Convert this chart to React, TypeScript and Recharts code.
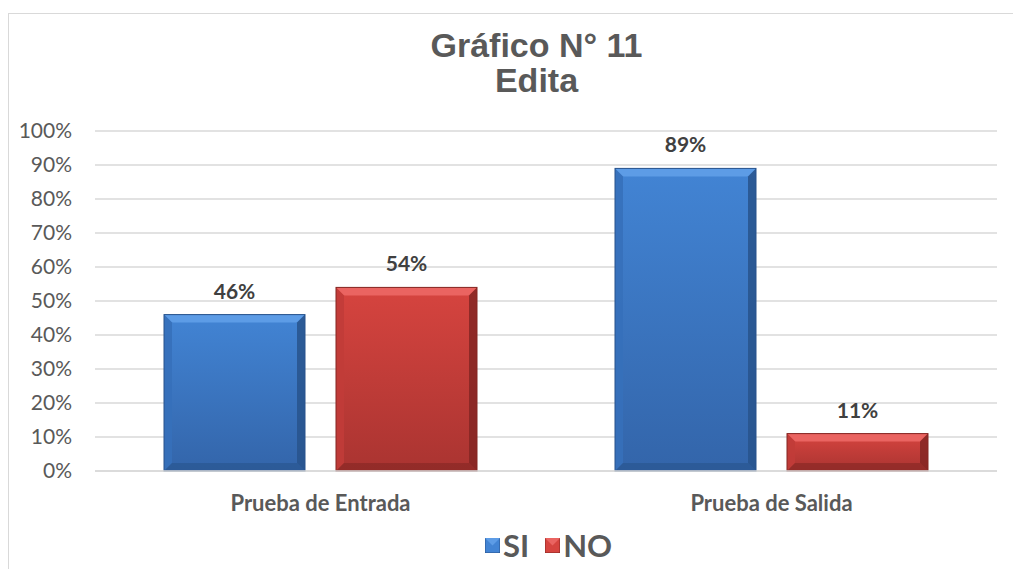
import { BarChart, Bar, XAxis, YAxis, CartesianGrid, Legend, LabelList } from "recharts"

const categories = ["Prueba de Entrada", "Prueba de Salida"]
const siValues = [0.46, 0.89]
const noValues = [0.54, 0.11]
const yTicks = [0, 0.1, 0.2, 0.3, 0.4, 0.5, 0.6, 0.7, 0.8, 0.9, 1]
const titleLines = ["Gráfico N° 11", "Edita"]

const data = categories.map((name, i) => ({ name, SI: siValues[i], NO: noValues[i] }))

const pct = (v: number) => `${Math.round(v * 100)}%`

const palette = {
  SI: { top: "#5d9ce6", face1: "#4284d4", face2: "#3365aa", side: "#3670ba", dark: "#28538c" },
  NO: { top: "#ea6461", face1: "#d6443f", face2: "#aa3431", side: "#c13c38", dark: "#842623" },
}

function BevelBar(props: any) {
  const { x, y, width: w, height: h, dataKey } = props
  if (!h || h <= 0) return null
  const c = palette[dataKey as "SI" | "NO"]
  const b = Math.min(8, h / 3)
  return (
    <g>
      <rect x={x} y={y} width={w} height={h} fill={`url(#grad-${dataKey})`} />
      <polygon points={`${x},${y} ${x + w},${y} ${x + w - b},${y + b} ${x + b},${y + b}`} fill={c.top} />
      <polygon points={`${x},${y} ${x + b},${y + b} ${x + b},${y + h - b} ${x},${y + h}`} fill={c.side} opacity={0.9} />
      <polygon points={`${x + w},${y} ${x + w - b},${y + b} ${x + w - b},${y + h - b} ${x + w},${y + h}`} fill={c.dark} opacity={0.85} />
      <polygon points={`${x},${y + h} ${x + b},${y + h - b} ${x + w - b},${y + h - b} ${x + w},${y + h}`} fill={c.dark} opacity={0.6} />
      <rect x={x} y={y} width={w} height={h} fill="none" stroke={c.dark} strokeWidth={1} />
    </g>
  )
}

function LegendBox() {
  const items = [
    { key: "SI", c: palette.SI },
    { key: "NO", c: palette.NO },
  ]
  return (
    <div style={{ height: 58, display: "flex", justifyContent: "flex-start", alignItems: "center", paddingTop: 10, paddingLeft: 485, boxSizing: "border-box", gap: 16 }}>
      {items.map((it) => (
        <div key={it.key} style={{ display: "flex", alignItems: "center", gap: 3 }}>
          <svg width={15} height={15}>
            <rect x={0} y={0} width={15} height={15} fill={it.c.face1} stroke={it.c.dark} />
            <polygon points="0,0 15,0 7.5,7.5" fill={it.c.top} />
          </svg>
          <span style={{ fontFamily: "Lato", fontWeight: 700, fontSize: 31, color: "#595959" }}>{it.key}</span>
        </div>
      ))}
    </div>
  )
}

export default function App() {
  return (
    <div style={{ position: "absolute", left: 0, top: 0, width: 1013, height: 569, overflow: "hidden", background: "#fff" }}>
      <div style={{ position: "absolute", left: 8, top: 13, width: 1020, height: 620, border: "1.5px solid #d9d9d9" }} />
      {titleLines.map((t, i) => (
        <div
          key={t}
          style={{
            position: "absolute",
            left: 0,
            width: 1073,
            top: 28 + i * 35,
            height: 34,
            lineHeight: "34px",
            textAlign: "center",
            fontFamily: "Liberation Sans",
            fontWeight: 700,
            fontSize: 34,
            color: "#595959",
          }}
        >
          {t}
        </div>
      ))}
      <div style={{ position: "absolute", left: 0, top: 0 }}>
        <BarChart width={1013} height={569} data={data} margin={{ top: 131, right: 16, left: 0, bottom: 0 }} barCategoryGap="15.3%" barGap={31}>
          <defs>
            <linearGradient id="grad-SI" x1="0" y1="0" x2="0" y2="1">
              <stop offset="0%" stopColor={palette.SI.face1} />
              <stop offset="100%" stopColor={palette.SI.face2} />
            </linearGradient>
            <linearGradient id="grad-NO" x1="0" y1="0" x2="0" y2="1">
              <stop offset="0%" stopColor={palette.NO.face1} />
              <stop offset="100%" stopColor={palette.NO.face2} />
            </linearGradient>
          </defs>
          <CartesianGrid vertical={false} stroke="#d9d9d9" strokeWidth={1.5} />
          <XAxis
            dataKey="name"
            height={40}
            axisLine={{ stroke: "#d9d9d9", strokeWidth: 1.5 }}
            tickLine={false}
            tickSize={0}
            tickMargin={24}
            tick={{ fontFamily: "Lato", fontWeight: 700, fontSize: 22, fill: "#595959" }}
          />
          <YAxis
            width={95}
            domain={[0, 1]}
            ticks={yTicks}
            tickFormatter={pct}
            axisLine={false}
            tickLine={false}
            tickSize={0}
            tickMargin={23}
            tick={{ fontFamily: "Lato", fontSize: 21, fill: "#595959" }}
          />
          <Legend verticalAlign="bottom" height={58} content={() => <LegendBox />} />
          <Bar dataKey="SI" fill={palette.SI.face1} shape={<BevelBar dataKey="SI" />} isAnimationActive={false}>
            <LabelList dataKey="SI" position="top" offset={16} formatter={(v: any) => pct(v)} style={{ fontFamily: "Lato", fontWeight: 700, fontSize: 21, fill: "#404040" }} />
          </Bar>
          <Bar dataKey="NO" fill={palette.NO.face1} shape={<BevelBar dataKey="NO" />} isAnimationActive={false}>
            <LabelList dataKey="NO" position="top" offset={16} formatter={(v: any) => pct(v)} style={{ fontFamily: "Lato", fontWeight: 700, fontSize: 21, fill: "#404040" }} />
          </Bar>
        </BarChart>
      </div>
    </div>
  )
}
